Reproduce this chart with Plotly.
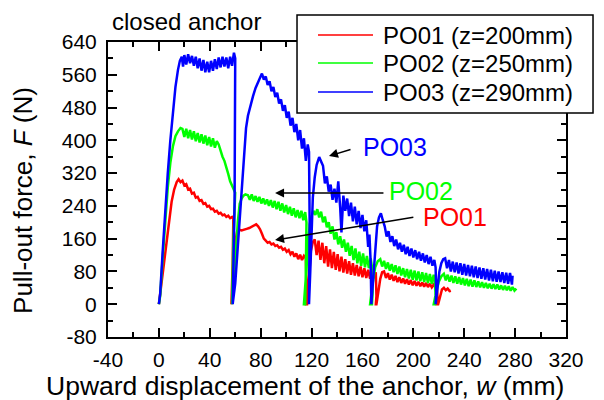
import plotly.graph_objects as go

# Pull-out tests on a closed anchor: (w [mm], F [N]) sampled along each
# loading / unloading / reloading stage.
po01 = [
    (0, 0), (2, 45), (4, 100), (6, 150), (8, 200), (10, 250), (12, 280), (14, 298), (15.5, 305),
    (17, 298), (18.5, 302), (20, 290), (21.5, 293), (23, 280), (24.5, 282), (26, 270), (27.5, 272),
    (29, 260), (30.5, 262), (32, 252), (33.5, 254), (35, 245), (36.5, 247), (38, 238), (39.5, 240),
    (41, 232), (42.5, 233), (44, 226), (45.5, 228), (47, 221), (48.5, 223), (50, 217), (51.5, 219),
    (53, 213), (54.5, 216), (56, 210), (57.5, 213), (58.5, 208), (58, 100), (57, 0),
    (57, 0), (58.5, 60), (60, 150), (61.5, 178), (63, 182), (65, 180), (67, 183), (69, 184),
    (71, 186), (73, 190), (75, 193), (76.5, 195), (78, 190), (79.5, 183), (81, 172), (82.5, 160),
    (84, 155), (85.5, 150), (87, 152), (88.5, 146), (90, 148), (91.5, 142), (93, 144), (94.5, 138),
    (96, 140), (97.5, 133), (99, 136), (100.5, 128), (102, 132), (103.5, 122), (105, 128), (106.5, 116),
    (108, 124), (109.5, 110), (111, 121), (112.5, 108), (114, 118), (115.5, 112), (116, 50), (115.5, 0),
    (116.5, 0), (118, 60), (119.5, 130), (121, 152), (122.5, 158), (124, 120), (125.5, 155), (127, 108),
    (128.5, 150), (130, 100), (131.5, 142), (133, 92), (134.5, 134), (136, 88), (137.5, 128), (139, 84),
    (140.5, 122), (142, 80), (143.5, 116), (145, 77), (146.5, 110), (148, 75), (149.5, 105), (151, 72),
    (152.5, 100), (154, 70), (155.5, 96), (157, 68), (158.5, 92), (160, 66), (161.5, 88), (163, 64),
    (164.5, 84), (166, 62), (167.5, 82), (169, 64), (170.5, 78), (171, 20), (170.5, 0),
    (171, 0), (172.5, 30), (174, 62), (175.5, 78), (177, 80), (178.5, 64), (180, 76), (181.5, 60),
    (183, 72), (184.5, 57), (186, 69), (187.5, 54), (189, 66), (190.5, 52), (192, 63), (193.5, 50),
    (195, 61), (196.5, 48), (198, 59), (199.5, 46), (201, 57), (202.5, 45), (204, 55), (205.5, 44),
    (207, 53), (208.5, 43), (210, 52), (211.5, 42), (213, 50), (214.5, 41), (216, 48), (217.5, 40),
    (218.5, 45), (219, 15), (218.5, 0),
    (219.5, 0), (221, 22), (222.5, 36), (224, 40), (225.5, 34), (227, 38), (228.5, 32), (229.5, 33),
]

po02 = [
    (0, 0), (1, 20), (3, 115), (5, 205), (7, 285), (9, 345), (11, 385), (13, 410), (15, 422),
    (17, 430), (18.5, 428), (20, 408), (21.5, 428), (23, 405), (24.5, 425), (26, 402), (27.5, 422),
    (29, 398), (30.5, 418), (32, 395), (33.5, 415), (35, 392), (36.5, 412), (38, 388), (39.5, 408),
    (41, 385), (42.5, 405), (44, 382), (45.5, 398), (47, 390), (48.5, 372), (50, 360), (51.5, 350),
    (53, 330), (54.5, 318), (56, 300), (57.5, 288), (59, 278), (60, 272), (58.5, 150), (57.5, 0),
    (57.5, 0), (59, 50), (60.5, 130), (62, 200), (63.5, 245), (65, 258), (66.5, 265), (68, 268),
    (70, 266), (71.5, 255), (73, 268), (74.5, 252), (76, 264), (77.5, 250), (79, 262), (80.5, 246),
    (82, 258), (83.5, 244), (85, 256), (86.5, 240), (88, 254), (89.5, 236), (91, 252), (92.5, 232),
    (94, 250), (95.5, 228), (97, 246), (98.5, 224), (100, 242), (101.5, 220), (103, 238), (104.5, 216),
    (106, 234), (107.5, 212), (109, 230), (110.5, 210), (112, 228), (113.5, 205), (115, 225),
    (116, 200), (115.5, 80), (115, 0),
    (114, 0), (115.5, 60), (117, 140), (118.5, 195), (120, 215), (121.5, 228), (123, 218), (124.5, 232),
    (126, 212), (127.5, 226), (129, 200), (130.5, 214), (132, 188), (133.5, 200), (135, 172),
    (136.5, 190), (138, 158), (139.5, 176), (141, 146), (142.5, 166), (144, 138), (145.5, 158),
    (147, 128), (148.5, 150), (150, 118), (151.5, 142), (153, 108), (154.5, 136), (156, 100),
    (157.5, 128), (159, 94), (160.5, 124), (162, 90), (163.5, 118), (165, 88), (166.5, 112),
    (167.5, 90), (168, 30), (167.5, 0),
    (166, 0), (168, 50), (170, 90), (172, 105), (174, 110), (175.5, 92), (177, 106), (178.5, 86),
    (180, 102), (181.5, 82), (183, 98), (184.5, 78), (186, 95), (187.5, 74), (189, 92), (190.5, 70),
    (192, 88), (193.5, 66), (195, 86), (196.5, 63), (198, 84), (199.5, 60), (201, 82), (202.5, 58),
    (204, 80), (205.5, 56), (207, 78), (208.5, 54), (210, 76), (211.5, 52), (213, 74), (214.5, 50),
    (216, 72), (217, 55), (217.5, 20), (217, 0),
    (216, 0), (218, 30), (220, 55), (222, 68), (224, 74), (225.5, 58), (227, 72), (228.5, 55),
    (230, 70), (231.5, 52), (233, 68), (234.5, 50), (236, 66), (237.5, 48), (239, 64), (240.5, 46),
    (242, 62), (243.5, 44), (245, 60), (246.5, 43), (248, 58), (249.5, 42), (251, 56), (252.5, 41),
    (254, 54), (255.5, 40), (257, 52), (258.5, 39), (260, 50), (261.5, 38), (263, 49), (264.5, 37),
    (266, 48), (267.5, 36), (269, 46), (270.5, 35), (272, 45), (273.5, 34), (275, 44), (276.5, 33),
    (278, 42), (279.5, 33), (281, 38),
]

po03 = [
    (0, 0), (1, 25), (3, 130), (5, 240), (7, 320), (9, 400), (11, 470), (13, 530), (15, 572),
    (16.5, 594), (18, 604), (19, 580), (20, 608), (21.5, 585), (23, 610), (24.5, 588), (26, 606),
    (27.5, 582), (29, 604), (30.5, 576), (32, 600), (33.5, 570), (35, 596), (36.5, 566), (38, 592),
    (39.5, 566), (41, 594), (42.5, 570), (44, 598), (45.5, 574), (47, 602), (48.5, 578), (50, 604),
    (51.5, 580), (53, 602), (54.5, 576), (56, 604), (57.5, 582), (59, 614), (60, 600), (59.5, 250),
    (58, 0),
    (58, 0), (60, 50), (62, 140), (64, 230), (65.5, 300), (67, 380), (68.5, 430), (70, 460),
    (72, 488), (74, 508), (76, 528), (78, 545), (79.5, 553), (81, 563), (82.5, 548), (84, 556),
    (85.5, 535), (87, 544), (88.5, 520), (90, 530), (91.5, 506), (93, 516), (94.5, 490), (96, 500),
    (97.5, 472), (99, 486), (100.5, 455), (102, 470), (103.5, 436), (105, 455), (106.5, 420),
    (108, 440), (109.5, 400), (111, 425), (112.5, 380), (114, 405), (115.5, 350), (117, 390),
    (118, 372), (118.5, 200), (118, 0),
    (118, 0), (119, 80), (120, 180), (121, 260), (122.5, 310), (124, 340), (126, 359), (127.5, 350),
    (129, 338), (130.5, 295), (132, 312), (133.5, 275), (135, 292), (136.5, 255), (138, 282),
    (139.5, 248), (141, 300), (142.5, 236), (143.5, 175), (145, 265), (146.5, 228), (148, 258),
    (149.5, 215), (151, 248), (152.5, 202), (154, 238), (155.5, 195), (157, 228), (158.5, 186),
    (160, 218), (161.5, 178), (163, 205), (164.5, 140), (165.5, 170), (166.5, 100), (167, 0),
    (167, 0), (168.5, 60), (170, 140), (171.5, 190), (173, 212), (174.5, 222), (176, 205), (177.5, 190),
    (179, 165), (180.5, 178), (182, 152), (183.5, 166), (185, 142), (186.5, 158), (188, 134),
    (189.5, 150), (191, 128), (192.5, 145), (194, 122), (195.5, 140), (197, 118), (198.5, 136),
    (200, 114), (201.5, 132), (203, 110), (204.5, 128), (206, 106), (207.5, 124), (209, 102),
    (210.5, 120), (212, 98), (213.5, 116), (215, 94), (216.5, 108), (217.5, 90), (218, 30), (217.5, 0),
    (217.5, 0), (219, 40), (220.5, 80), (222, 100), (223.5, 110), (225, 112), (226.5, 88), (228, 108),
    (229.5, 80), (231, 104), (232.5, 78), (234, 102), (235.5, 75), (237, 100), (238.5, 72), (240, 98),
    (241.5, 70), (243, 96), (244.5, 68), (246, 94), (247.5, 66), (249, 92), (250.5, 64), (252, 90),
    (253.5, 62), (255, 88), (256.5, 60), (258, 86), (259.5, 58), (261, 84), (262.5, 56), (264, 82),
    (265.5, 55), (267, 80), (268.5, 54), (270, 78), (271.5, 52), (273, 77), (274.5, 50), (276, 76),
    (277.5, 48), (278, 70),
]

series_names = ["PO01 (z=200mm)", "PO02 (z=250mm)", "PO03 (z=290mm)"]
series_colors = ["#ff0000", "#00ff00", "#0000ff"]

x_ticks = [-40, 0, 40, 80, 120, 160, 200, 240, 280, 320]
y_ticks = [-80, 0, 80, 160, 240, 320, 400, 480, 560, 640]

FONT = "Liberation Sans, Arial, sans-serif"

fig = go.Figure()
for data, name, color in zip([po01, po02, po03], series_names, series_colors):
    w, f = zip(*data)
    fig.add_trace(go.Scatter(x=list(w), y=list(f), mode="lines", name=name,
                             line=dict(color=color, width=2.5), showlegend=False))

axis_common = dict(
    showline=True, linecolor="black", linewidth=2, mirror="ticks",
    ticks="inside", ticklen=9, tickwidth=2, tickcolor="black",
    showgrid=False, zeroline=False,
    tickfont=dict(family=FONT, size=21, color="black"),
)

fig.update_xaxes(range=[-40, 320], tickvals=x_ticks, ticktext=[str(v) for v in x_ticks],
                 ticklabelstandoff=3,
                 minor=dict(ticks="inside", ticklen=5, tickwidth=2, tickcolor="black", dtick=20, tick0=0),
                 **axis_common)
fig.update_yaxes(range=[-80, 640], tickvals=y_ticks, ticktext=[str(v) for v in y_ticks],
                 ticklabelstandoff=5,
                 minor=dict(ticks="inside", ticklen=5, tickwidth=2, tickcolor="black", dtick=40, tick0=0),
                 **axis_common)

annotations = [
    dict(text="closed anchor", xref="paper", yref="paper", x=0.004, y=1.071,
         xanchor="left", yanchor="middle", showarrow=False,
         font=dict(family=FONT, size=24, color="black")),
    dict(text="Upward displacement of the anchor, <i>w</i> (mm)", xref="paper", yref="paper",
         x=0.430, y=-0.165, xanchor="center", yanchor="middle", showarrow=False,
         font=dict(family=FONT, size=26.5, color="black")),
    dict(text="Pull-out force, <i>F</i> (N)", xref="paper", yref="paper",
         x=-0.186, y=0.464, xanchor="center", yanchor="middle", showarrow=False, textangle=-90,
         font=dict(family=FONT, size=26, color="black")),
    # curve labels
    dict(text="PO03", x=185.9, y=383.7, xref="x", yref="y", showarrow=False,
         font=dict(family=FONT, size=25, color="#0000ff")),
    dict(text="PO02", x=206.4, y=276, xref="x", yref="y", showarrow=False,
         font=dict(family=FONT, size=25, color="#00ff00")),
    dict(text="PO01", x=232.7, y=212.9, xref="x", yref="y", showarrow=False,
         font=dict(family=FONT, size=25, color="#ff0000")),
]
# pointer arrows: (head_w, head_F, tail_w, tail_F)
arrows = [(133.7, 361.7, 151.8, 378.8), (91.3, 271.2, 177.7, 271.2), (91.3, 156.7, 201.2, 212.9)]
for hx, hy, tx, ty in arrows:
    annotations.append(dict(text="", x=hx, y=hy, ax=tx, ay=ty, xref="x", yref="y",
                            axref="x", ayref="y", showarrow=True, arrowhead=2,
                            arrowsize=1.2, arrowwidth=1.5, arrowcolor="black", standoff=0))

# legend box drawn in paper coordinates
shapes = [dict(type="rect", xref="paper", yref="paper", x0=0.4127, x1=1.059, y0=0.7593, y1=1.0915,
               fillcolor="white", line=dict(color="black", width=1.5), layer="above")]
legend_rows = [1.0237, 0.9288, 0.8305]
for name, color, ry in zip(series_names, series_colors, legend_rows):
    shapes.append(dict(type="line", xref="paper", yref="paper", x0=0.4585, x1=0.5786, y0=ry, y1=ry,
                       line=dict(color=color, width=1.5), layer="above"))
    annotations.append(dict(text=name, xref="paper", yref="paper", x=0.5961, y=ry,
                            xanchor="left", yanchor="middle", showarrow=False,
                            font=dict(family=FONT, size=24, color="black")))

fig.update_layout(
    width=604, height=400,
    margin=dict(l=108, r=38, t=42, b=63),
    paper_bgcolor="white", plot_bgcolor="white",
    font=dict(family=FONT, color="black"),
    showlegend=False,
    shapes=shapes,
    annotations=annotations,
)

fig.write_html("out.html")
